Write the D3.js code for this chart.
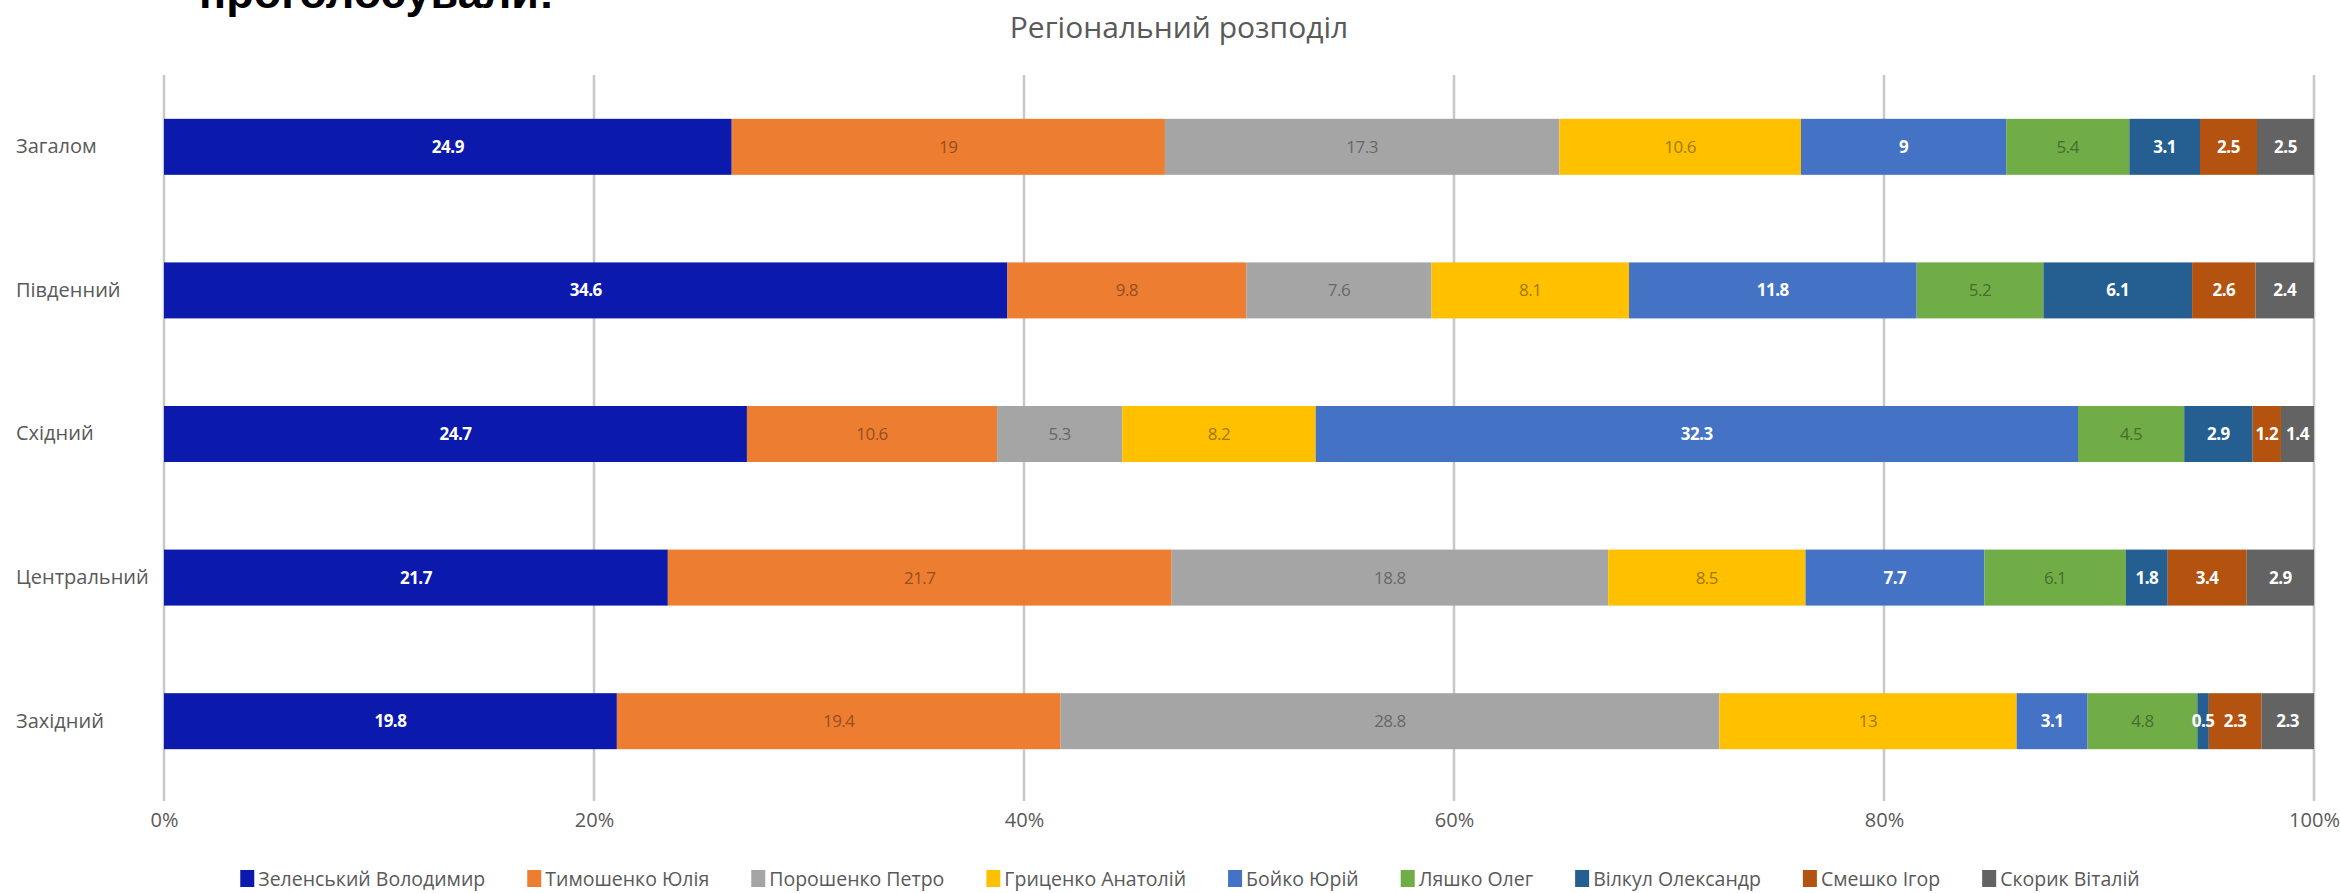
<!DOCTYPE html>
<html><head><meta charset="utf-8">
<script src="https://cdn.jsdelivr.net/npm/d3@7"></script>
<style>body{margin:0;background:#fff;}svg{display:block;font-family:"Open Sans",sans-serif;}</style>
</head><body><svg id="c" width="2340" height="893"></svg>
<script>
const regions = ["Загалом","Південний","Східний","Центральний","Західний"];
const candidates = ["Зеленський Володимир","Тимошенко Юлія","Порошенко Петро","Гриценко Анатолій","Бойко Юрій","Ляшко Олег","Вілкул Олександр","Смешко Ігор","Скорик Віталій"];
const zelensky  = [24.9, 34.6, 24.7, 21.7, 19.8];
const tymoshenko= [19, 9.8, 10.6, 21.7, 19.4];
const poroshenko= [17.3, 7.6, 5.3, 18.8, 28.8];
const hrytsenko = [10.6, 8.1, 8.2, 8.5, 13];
const boyko     = [9, 11.8, 32.3, 7.7, 3.1];
const lyashko   = [5.4, 5.2, 4.5, 6.1, 4.8];
const vilkul    = [3.1, 6.1, 2.9, 1.8, 0.5];
const smeshko   = [2.5, 2.6, 1.2, 3.4, 2.3];
const skoryk    = [2.5, 2.4, 1.4, 2.9, 2.3];
const seriesValues = [zelensky,tymoshenko,poroshenko,hrytsenko,boyko,lyashko,vilkul,smeshko,skoryk];
const colors = ["#0b19ad","#ed7d31","#a5a5a5","#ffc000","#4472c4","#70ad47","#255e91","#b4520f","#636363"];
const lightLabel = [false,true,true,true,false,true,false,false,false];
const xTicks = [0,0.2,0.4,0.6,0.8,1.0];
const chartTitle = "Регіональний розподіл";
const heading = "проголосували:";

(function(){
const svg = d3.select("#c");
const mLeft = 164, mRight = 2314, mTop = 75, mBottom = 801;

const rows = regions.map((r,i)=>{
  const vals = seriesValues.map(s=>s[i]);
  const total = d3.sum(vals);
  let acc = 0;
  return {region:r, segs: vals.map((v,k)=>{const s={k, v, x0:acc/total, x1:(acc+v)/total}; acc+=v; return s;})};
});

const x = d3.scaleLinear().domain([0,1]).range([mLeft,mRight]);
const y = d3.scaleBand().domain(regions).range([mTop-4, mBottom-4]).paddingInner(0.61).paddingOuter(0.333);

svg.append("text").attr("x",199).attr("y",8).attr("font-size",45).attr("font-weight","bold")
  .attr("font-family","Liberation Sans, Arial, sans-serif").attr("fill","#000").text(heading);

svg.append("text").attr("x",1179).attr("y",38).attr("text-anchor","middle").attr("font-size",30)
  .attr("fill","#595959").attr("font-weight",500).text(chartTitle);

svg.append("g").selectAll("line").data(xTicks).join("line")
  .attr("x1",d=>x(d)).attr("x2",d=>x(d)).attr("y1",mTop).attr("y2",mBottom)
  .attr("stroke","#c8c8c8").attr("stroke-width",2.5);

const xAxis = d3.axisBottom(x).tickValues(xTicks).tickFormat(d3.format(".0%")).tickSize(0).tickPadding(0);
const gx = svg.append("g").attr("transform",`translate(0,${mBottom+12})`).call(xAxis);
gx.select(".domain").remove();
gx.selectAll("text").attr("font-size",20).attr("fill","#595959").attr("font-family","Open Sans, sans-serif").attr("dy","0.71em");

const yAxis = d3.axisLeft(y).tickSize(0);
const gy = svg.append("g").attr("transform",`translate(${mLeft},0)`).call(yAxis);
gy.select(".domain").remove();
gy.selectAll("text").attr("font-size",20).attr("fill","#595959").attr("font-family","Open Sans, sans-serif")
  .attr("text-anchor","start").attr("x",16-mLeft);

const rowG = svg.append("g").selectAll("g").data(rows).join("g")
  .attr("transform",d=>`translate(0,${y(d.region)})`);
rowG.selectAll("rect").data(d=>d.segs).join("rect")
  .attr("x",d=>x(d.x0)).attr("width",d=>x(d.x1)-x(d.x0)).attr("y",0).attr("height",y.bandwidth())
  .attr("fill",d=>colors[d.k]);
rowG.selectAll("text").data(d=>d.segs).join("text")
  .attr("x",d=>(x(d.x0)+x(d.x1))/2).attr("y",y.bandwidth()/2).attr("dy","0.35em")
  .attr("text-anchor","middle").attr("font-size",17)
  .attr("font-weight",d=>lightLabel[d.k]?"normal":"bold")
  .attr("fill",d=>lightLabel[d.k]? d3.color(colors[d.k]).darker(1.3).formatHex() : "#ffffff")
  .attr("letter-spacing",-0.5)
  .text(d=>d.v);

const lg = svg.append("g").attr("transform","translate(0,880)");
const items = lg.selectAll("g").data(candidates).join("g");
items.append("rect").attr("x",0).attr("y",-10).attr("width",14).attr("height",17).attr("fill",(d,i)=>colors[i]);
items.append("text").attr("x",18).attr("y",0).attr("dy","0.32em").attr("font-size",19.5).attr("fill","#595959").text(d=>d);
const gap = 42;
const widths = [];
items.each(function(){ widths.push(18 + this.querySelector("text").getComputedTextLength()); });
const totalW = d3.sum(widths) + gap*(widths.length-1);
let cx = 1190 - totalW/2;
items.each(function(d,i){ d3.select(this).attr("transform",`translate(${cx},0)`); cx += widths[i]+gap; });
})();
</script></body></html>
